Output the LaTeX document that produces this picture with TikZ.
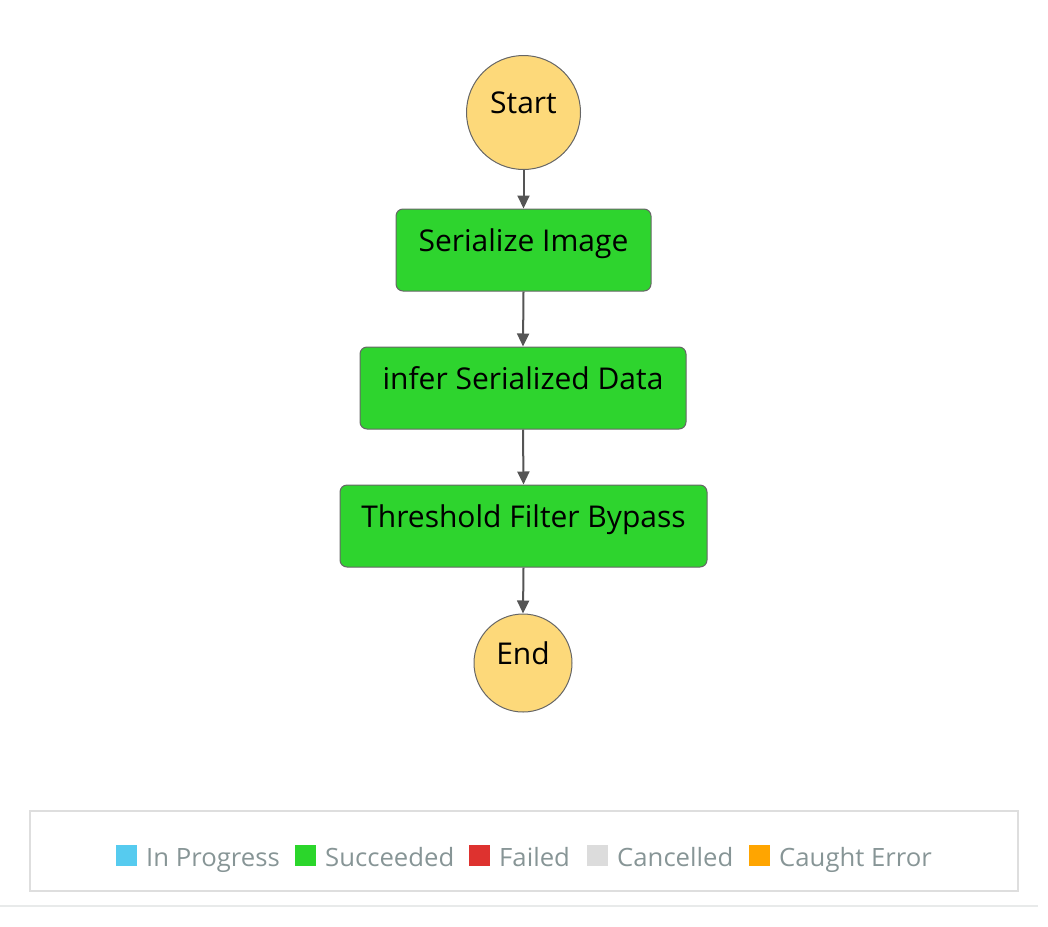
\documentclass[tikz,border=0pt]{standalone}
\usepackage{fontspec}
\setmainfont{Open Sans}
\newfontfamily\legfont[FakeStretch=1.02]{Open Sans}
\usetikzlibrary{arrows.meta}
\definecolor{startyellow}{HTML}{FDD97A}
\definecolor{okgreen}{HTML}{2ED42E}
\definecolor{edgegray}{HTML}{666666}
\definecolor{arrowgray}{HTML}{555555}
\definecolor{legtext}{HTML}{879596}
\definecolor{legblue}{HTML}{56CBEF}
\definecolor{leggreen}{HTML}{2BD62B}
\definecolor{legred}{HTML}{DE322F}
\definecolor{leggray}{HTML}{DCDCDC}
\definecolor{legorange}{HTML}{FFA500}
\definecolor{framegray}{HTML}{DEDEDE}
\definecolor{rulegray}{HTML}{E8EAEA}
\tikzset{
  terminal/.style={circle, draw=edgegray, fill=startyellow, line width=1pt, inner sep=0pt},
  stepbox/.style={rectangle, rounded corners=7pt, draw=edgegray, fill=okgreen, line width=1pt, inner sep=0pt, minimum height=82pt},
  steptext/.style={font=\fontsize{30}{33}\selectfont, text=black, inner sep=0pt, anchor=base},
  flow/.style={draw=arrowgray, line width=2pt, -{Triangle[width=12pt,length=13pt]}},
  legsq/.style={rectangle, inner sep=0pt, minimum size=21pt},
  legtxt/.style={font=\legfont\fontsize{25.2}{27}\selectfont, text=legtext, inner sep=0pt, anchor=base west},
}
\begin{document}
\begin{tikzpicture}[x=1pt,y=-1pt]
\useasboundingbox (0,0) rectangle (1048,926);
% nodes
\node[terminal, minimum size=114pt] (start) at (523.5,112.5) {};
\node[steptext] (starttxt) at (523.5,113) {Start};
\node[stepbox, minimum width=255pt] (s1) at (523.5,250) {};
\node[steptext] (s1txt) at (523.5,251) {Serialize Image};
\node[stepbox, minimum width=326pt] (s2) at (523,388) {};
\node[steptext] (s2txt) at (523,389) {infer Serialized Data};
\node[stepbox, minimum width=367pt] (s3) at (523.5,526) {};
\node[steptext] (s3txt) at (523.5,527) {Threshold Filter Bypass};
\node[terminal, minimum size=98pt] (end) at (523,663) {};
\node[steptext] (endtxt) at (523,664) {End};
% connectors
\draw[flow] (start.south) -- (s1.north);
\draw[flow] (s1.south) -- (s2.north);
\draw[flow] (s2.south) -- (s3.north);
\draw[flow] (s3.south) -- (end.north);
% legend
\node[draw=framegray, line width=2pt, rectangle, minimum width=988pt, minimum height=80pt, inner sep=0pt] (legend) at (524,851) {};
\node[legsq, fill=legblue] (q1) at (126.5,855.5) {};
\node[legtxt] (t1) at (146,866) {In Progress};
\node[legsq, fill=leggreen] (q2) at (305.5,855.5) {};
\node[legtxt] (t2) at (325,866) {Succeeded};
\node[legsq, fill=legred] (q3) at (479.5,855.5) {};
\node[legtxt] (t3) at (499,866) {Failed};
\node[legsq, fill=leggray] (q4) at (597.5,855.5) {};
\node[legtxt] (t4) at (617,866) {Cancelled};
\node[legsq, fill=legorange] (q5) at (759.5,855.5) {};
\node[legtxt] (t5) at (779,866) {Caught Error};
\coordinate (ruleL) at (0,906);
\coordinate (ruleR) at (1038,906);
\draw[rulegray, line width=2pt] (ruleL) -- (ruleR);
\end{tikzpicture}
\end{document}
